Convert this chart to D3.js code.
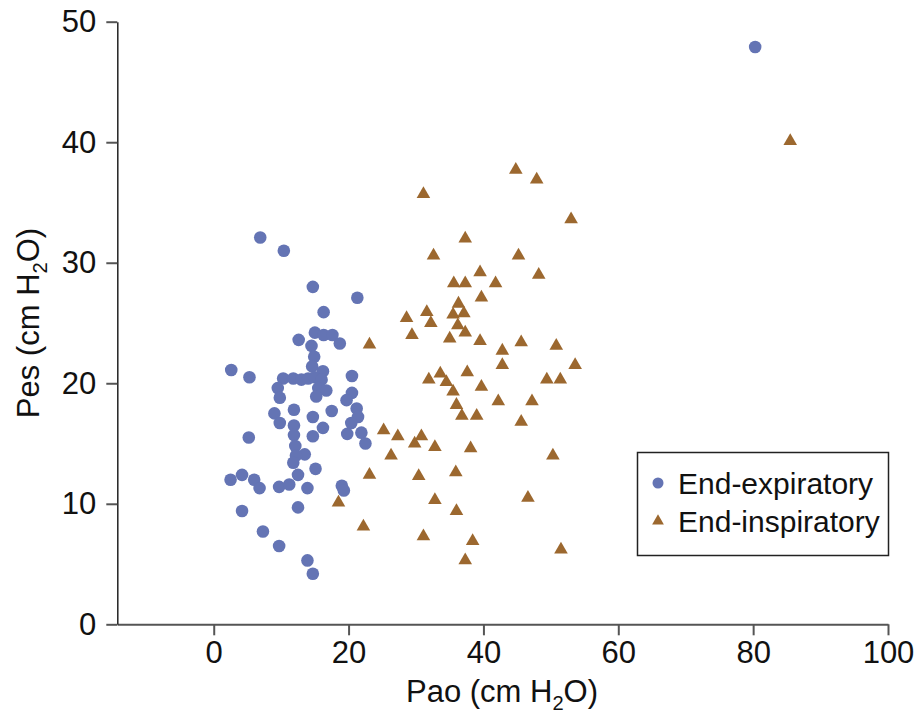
<!DOCTYPE html>
<html>
<head>
<meta charset="utf-8">
<script src="https://cdn.jsdelivr.net/npm/d3@7"></script>
<style>
  body { margin: 0; background: #fff; }
  svg { display: block; font-family: "Liberation Sans", Arial, Helvetica, sans-serif; }
</style>
</head>
<body>
<svg id="chart" width="918" height="717"></svg>
<script>
// End-expiratory points: [Pao, Pes]
const endExpiratory = [
  [80.3,47.9],[6.9,32.1],[10.4,31.0],[14.7,28.0],[21.3,27.1],[16.3,25.9],[15.0,24.2],[16.3,24.0],
  [17.6,24.0],[18.7,23.3],[12.6,23.6],[14.5,23.1],[14.9,22.2],[14.6,21.4],[16.2,21.0],[2.6,21.1],
  [5.3,20.5],[20.5,20.6],[10.3,20.4],[11.8,20.4],[13.0,20.3],[14.0,20.4],[15.0,20.5],[16.0,20.3],
  [9.5,19.6],[9.8,18.8],[15.5,19.6],[16.7,19.4],[15.2,18.9],[20.5,19.2],[19.7,18.6],[21.2,17.9],
  [21.4,17.2],[20.4,16.7],[21.9,15.9],[19.8,15.8],[22.5,15.0],[9.0,17.5],[9.8,16.7],[11.9,17.8],
  [11.9,16.5],[11.9,15.7],[12.1,14.8],[14.7,17.2],[17.5,17.7],[16.2,16.3],[14.7,15.6],[13.5,14.1],
  [12.2,14.0],[11.8,13.4],[15.1,12.9],[12.5,12.4],[5.2,15.5],[2.5,12.0],[4.2,12.4],[6.0,12.0],
  [6.8,11.3],[9.7,11.4],[11.2,11.6],[13.9,11.3],[19.0,11.5],[19.3,11.1],[4.2,9.4],[12.5,9.7],
  [7.3,7.7],[9.7,6.5],[13.9,5.3],[14.7,4.2]
];
// End-inspiratory points: [Pao, Pes]
const endInspiratory = [
  [85.5,40.1],[44.8,37.7],[47.9,36.9],[31.1,35.7],[53.0,33.6],[37.3,32.0],[32.6,30.6],[45.2,30.6],
  [39.5,29.2],[48.2,29.0],[35.6,28.3],[37.3,28.3],[41.8,28.3],[39.7,27.1],[36.3,26.6],[31.6,25.9],
  [28.6,25.4],[35.5,25.7],[37.1,25.8],[32.2,25.0],[36.2,24.8],[37.3,24.2],[29.4,24.0],[23.1,23.2],
  [35.0,23.7],[39.5,23.5],[45.6,23.4],[50.8,23.1],[42.8,22.7],[42.8,21.5],[53.6,21.5],[49.4,20.3],
  [51.4,20.3],[31.9,20.3],[33.6,20.8],[37.6,20.9],[34.5,20.1],[35.5,19.3],[39.7,19.7],[36.0,18.2],
  [36.8,17.3],[39.0,17.3],[42.2,18.5],[47.2,18.5],[45.6,16.8],[25.2,16.1],[27.3,15.6],[29.8,15.0],
  [30.8,15.6],[32.8,14.7],[26.3,14.0],[38.1,14.6],[50.3,14.0],[23.1,12.4],[30.4,12.3],[35.9,12.6],
  [18.5,10.1],[32.8,10.3],[46.6,10.5],[36.0,9.4],[22.2,8.1],[31.1,7.3],[38.4,6.9],[51.5,6.2],
  [37.3,5.3]
];
const xTicks = [0, 20, 40, 60, 80, 100];
const yTicks = [0, 10, 20, 30, 40, 50];
const seriesNames = ["End-expiratory", "End-inspiratory"];

const blue = "#6474b4";
const brown = "#9c682f";
const fontSize = 31;

const svg = d3.select("#chart");
const x = d3.scaleLinear().domain([-14.3, 100]).range([117.3, 888]);
const y = d3.scaleLinear().domain([0, 50]).range([624.3, 21.7]);

// X axis
const gx = svg.append("g").attr("transform", `translate(0,${y(0)})`)
  .call(d3.axisBottom(x).tickValues(xTicks).tickSize(11).tickSizeOuter(0).tickPadding(6));
gx.select(".domain").attr("stroke", "#555").attr("stroke-width", 2);
gx.selectAll(".tick line").attr("stroke", "#555").attr("stroke-width", 2);
gx.selectAll(".tick text").attr("font-size", fontSize).attr("fill", "#111")
  .attr("font-family", "'Liberation Sans', Arial, sans-serif");

// Y axis
const gy = svg.append("g").attr("transform", `translate(${x(-14.3)},0)`)
  .call(d3.axisLeft(y).tickValues(yTicks).tickSize(11).tickSizeOuter(0).tickPadding(10));
gy.select(".domain").attr("stroke", "#222").attr("stroke-width", 1.5);
gy.selectAll(".tick line").attr("stroke", "#555").attr("stroke-width", 2);
gy.selectAll(".tick text").attr("font-size", fontSize).attr("fill", "#111")
  .attr("font-family", "'Liberation Sans', Arial, sans-serif");

// Axis titles
function titleWithSub(sel, pre, sub, post) {
  sel.append("tspan").text(pre);
  sel.append("tspan").text(sub).attr("font-size", fontSize * 0.65).attr("dy", 8);
  sel.append("tspan").text(post).attr("dy", -8);
}
const xt = svg.append("text").attr("x", 502).attr("y", 702)
  .attr("text-anchor", "middle").attr("font-size", fontSize).attr("fill", "#111");
titleWithSub(xt, "Pao (cm H", "2", "O)");

const yt = svg.append("text")
  .attr("transform", `translate(39,323) rotate(-90)`)
  .attr("text-anchor", "middle").attr("font-size", fontSize).attr("fill", "#111");
titleWithSub(yt, "Pes (cm H", "2", "O)");

// Points
svg.append("g").selectAll("circle").data(endExpiratory).join("circle")
  .attr("cx", d => x(d[0])).attr("cy", d => y(d[1])).attr("r", 6.3)
  .attr("fill", blue);

const tri = d3.symbol().type(d3.symbolTriangle).size(80);
svg.append("g").selectAll("path").data(endInspiratory).join("path")
  .attr("d", tri)
  .attr("transform", d => `translate(${x(d[0])},${y(d[1])})`)
  .attr("fill", brown);

// Legend
const lg = svg.append("g");
lg.append("rect").attr("x", 637.5).attr("y", 452.5).attr("width", 251).attr("height", 103)
  .attr("fill", "#fff").attr("stroke", "#222").attr("stroke-width", 1.5);
lg.append("circle").attr("cx", 658).attr("cy", 483).attr("r", 5.5).attr("fill", blue);
lg.append("path").attr("d", d3.symbol().type(d3.symbolTriangle).size(60))
  .attr("transform", "translate(658,521)").attr("fill", brown);
lg.append("text").attr("x", 678).attr("y", 494).attr("font-size", 30).attr("fill", "#111").text(seriesNames[0]);
lg.append("text").attr("x", 678).attr("y", 532).attr("font-size", 30).attr("fill", "#111").text(seriesNames[1]);
</script>
</body>
</html>
